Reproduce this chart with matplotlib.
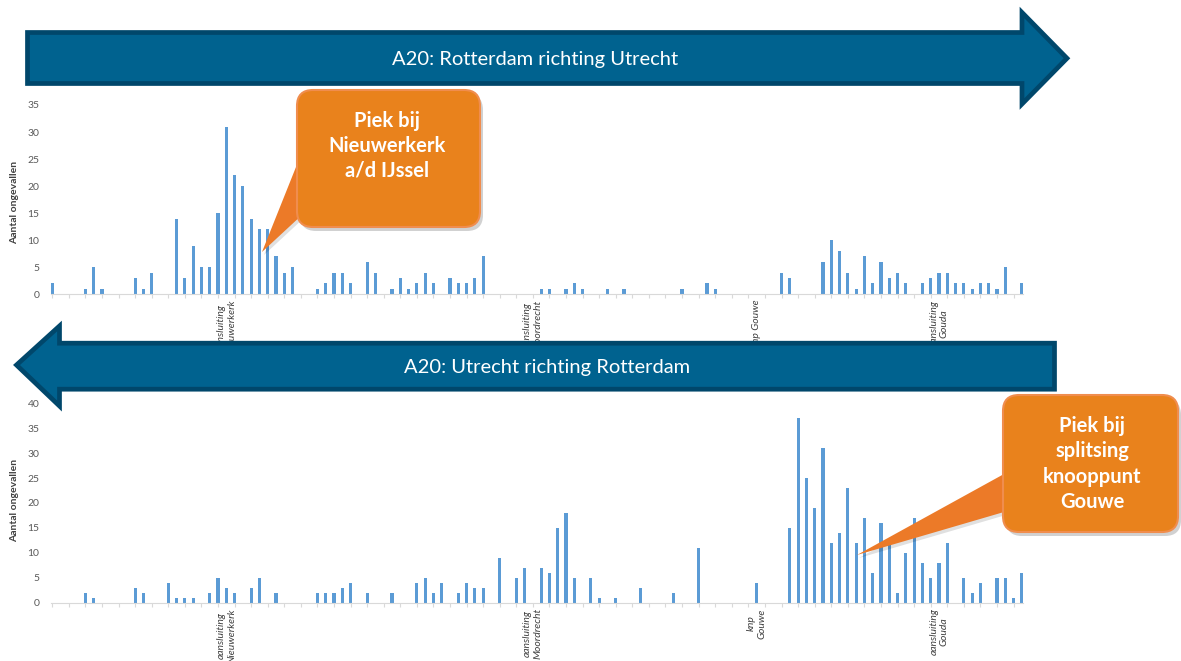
import numpy as np
import matplotlib.pyplot as plt
from matplotlib.patches import Polygon, FancyBboxPatch

plt.rcParams['font.family'] = ['Lato', 'DejaVu Sans']

# accidents per road section (hectometre blocks), index = position along the A20
km = np.arange(118)
rdam_utrecht = [2, 0, 0, 0, 1, 5, 1, 0, 0, 0,
                3, 1, 4, 0, 0, 14, 3, 9, 5, 5,
                15, 31, 22, 20, 14, 12, 12, 7, 4, 5,
                0, 0, 1, 2, 4, 4, 2, 0, 6, 4,
                0, 1, 3, 1, 2, 4, 2, 0, 3, 2,
                2, 3, 7, 0, 0, 0, 0, 0, 0, 1,
                1, 0, 1, 2, 1, 0, 0, 1, 0, 1,
                0, 0, 0, 0, 0, 0, 1, 0, 0, 2,
                1, 0, 0, 0, 0, 0, 0, 0, 4, 3,
                0, 0, 0, 6, 10, 8, 4, 1, 7, 2,
                6, 3, 4, 2, 0, 2, 3, 4, 4, 2,
                2, 1, 2, 2, 1, 5, 0, 2]
utrecht_rdam = [0, 0, 0, 0, 2, 1, 0, 0, 0, 0,
                3, 2, 0, 0, 4, 1, 1, 1, 0, 2,
                5, 3, 2, 0, 3, 5, 0, 2, 0, 0,
                0, 0, 2, 2, 2, 3, 4, 0, 2, 0,
                0, 2, 0, 0, 4, 5, 2, 4, 0, 2,
                4, 3, 3, 0, 9, 0, 5, 7, 0, 7,
                6, 15, 18, 5, 0, 5, 1, 0, 1, 0,
                0, 3, 0, 0, 0, 2, 0, 0, 11, 0,
                0, 0, 0, 0, 0, 4, 0, 0, 0, 15,
                37, 25, 19, 31, 12, 14, 23, 12, 17, 6,
                16, 12, 2, 10, 17, 8, 5, 8, 12, 0,
                5, 2, 4, 0, 5, 5, 1, 6]

label_pos = [21, 58, 85, 107]
top_labels = ['aansluiting\nNieuwerkerk', 'aansluiting\nMoordrecht',
              'knp Gouwe', 'aansluiting\nGouda']
bottom_labels = ['aansluiting\nNieuwerkerk', 'aansluiting\nMoordrecht',
                 'knp\nGouwe', 'aansluiting\nGouda']
top_yticks = list(range(0, 40, 5))
bottom_yticks = list(range(0, 45, 5))

W, H = 1181, 661
fig = plt.figure(figsize=(W / 100, H / 100), dpi=100)


def px_axes(left, right, top, bottom):
    return fig.add_axes([left / W, 1 - bottom / H, (right - left) / W, (bottom - top) / H])


def bar_panel(ax, values, ticks, labels):
    ax.bar(km, values, width=0.38, color='#5B9BD5')
    ax.set_xlim(-0.2, 117.2)
    ax.set_ylim(0, ticks[-1])
    ax.set_yticks(ticks)
    ax.tick_params(axis='y', length=0, labelsize=7.5, labelcolor='#595959', pad=8)
    ax.set_xticks(np.arange(0, 118, 2))
    ax.set_xticklabels([])
    ax.tick_params(axis='x', length=3, color='#d9d9d9', width=0.8)
    for s in ['top', 'right', 'left']:
        ax.spines[s].set_visible(False)
    ax.spines['bottom'].set_color('#d9d9d9')
    ax.patch.set_alpha(0)
    for p, t in zip(label_pos, labels):
        ax.annotate(t, xy=(p, 0), xytext=(0, -4), textcoords='offset points',
                    rotation=90, ha='center', va='top', multialignment='center',
                    fontsize=7.5, style='italic', color='#404040',
                    annotation_clip=False)


ax1 = px_axes(50.6, 1023.5, 105, 294.3)
bar_panel(ax1, rdam_utrecht, top_yticks, top_labels)
ax2 = px_axes(50.6, 1023.5, 403.3, 602.7)
bar_panel(ax2, utrecht_rdam, bottom_yticks, bottom_labels)

for yc in [202, 500]:
    fig.text(15 / W, 1 - yc / H, 'Aantal ongevallen', rotation=90, ha='center',
             va='center', fontsize=7.5, fontweight='bold', color='#404040')

# overlay in pixel coordinates for the banners and callouts
ov = fig.add_axes([0, 0, 1, 1])
ov.set_xlim(0, W)
ov.set_ylim(H, 0)
ov.axis('off')

blue, blue_edge = '#00628F', '#00476B'
ov.add_patch(Polygon([(27.5, 32.5), (1022, 32.5), (1022, 12.5), (1067, 58.3),
                      (1022, 104), (1022, 83.5), (27.5, 83.5)],
                     closed=True, fc=blue, ec=blue_edge, lw=3.4, joinstyle='miter'))
ov.add_patch(Polygon([(16.5, 365), (59.5, 326), (59.5, 343.2), (1054.5, 343.2),
                      (1054.5, 389.2), (59.5, 389.2), (59.5, 406)],
                     closed=True, fc=blue, ec=blue_edge, lw=3.4, joinstyle='miter'))
ov.text(535, 59, 'A20: Rotterdam richting Utrecht', ha='center', va='center',
        fontsize=14.5, color='white')
ov.text(547, 367, 'A20: Utrecht richting Rotterdam', ha='center', va='center',
        fontsize=14.5, color='white')

orange = '#E9821C'


def callout(x, y, w, h, pointer, text, tx, ty, ls):
    ov.add_patch(FancyBboxPatch((x + 3, y + 4), w, h,
                                boxstyle='round,pad=0,rounding_size=16',
                                fc='black', ec='none', alpha=0.18))
    ov.add_patch(Polygon([(px + 2, py + 3) for px, py in pointer], closed=True,
                         fc='black', ec='none', alpha=0.12))
    ov.add_patch(Polygon(pointer, closed=True, fc='#EC7A28', ec='none'))
    ov.add_patch(FancyBboxPatch((x, y), w, h, boxstyle='round,pad=0,rounding_size=16',
                                fc=orange, ec='#F08D4E', lw=1.5))
    ov.text(tx, ty, text, ha='center', va='center', fontsize=14.5, fontweight='bold',
            color='white', linespacing=ls)


callout(297, 90, 183, 137, [(298, 162), (262, 252), (303, 214), (322, 200)],
        'Piek bij\nNieuwerkerk\na/d IJssel', 387, 146, 1.3)
callout(1003, 395, 175, 137, [(1004, 474), (857, 555), (1004, 512), (1022, 500)],
        'Piek bij\nsplitsing\nknooppunt\nGouwe', 1092, 464, 1.33)

fig.savefig('out.png', dpi=100)
